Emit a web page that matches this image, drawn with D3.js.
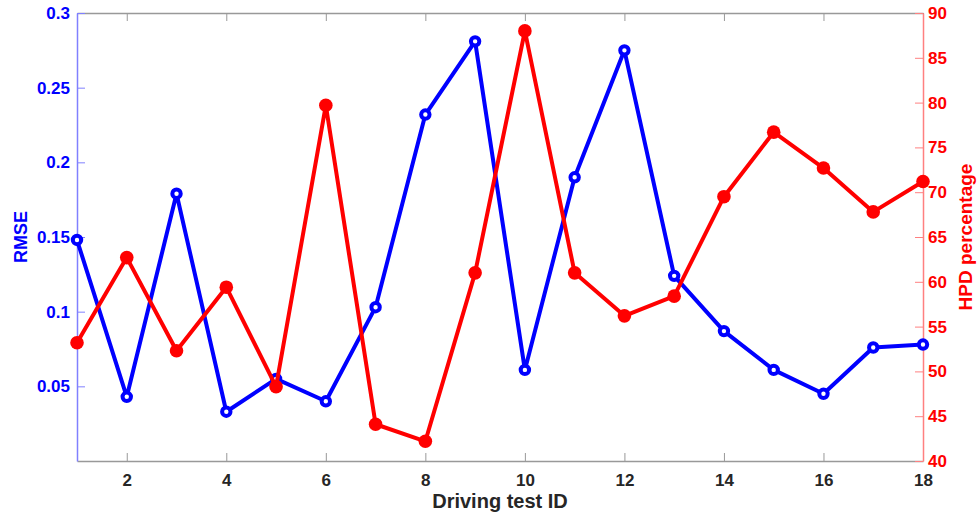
<!DOCTYPE html>
<html>
<head>
<meta charset="utf-8">
<script src="https://cdn.jsdelivr.net/npm/d3@7"></script>
<style>
	html, body { margin: 0; padding: 0; background: #fff; overflow: hidden; }
	svg { display: block; }
	svg text { font-family: "Liberation Sans", Arial, sans-serif; font-weight: bold; }
</style>
</head>
<body>
<svg id="chart" width="980" height="517"></svg>
<script>
// Data
const testIds = d3.range(1, 19);
const rmse = [0.148, 0.043, 0.179, 0.033, 0.055, 0.040, 0.103, 0.232, 0.281,
	0.061, 0.190, 0.275, 0.124, 0.087, 0.061, 0.045, 0.076, 0.078];
const hpd = [53.2, 62.7, 52.3, 59.4, 48.3, 79.7, 44.1, 42.2, 61.0,
	88.0, 61.0, 56.2, 58.4, 69.5, 76.7, 72.7, 67.8, 71.2];
const xTicks = [2, 4, 6, 8, 10, 12, 14, 16, 18];
const rmseTicks = [0.05, 0.1, 0.15, 0.2, 0.25, 0.3];
const hpdTicks = [40, 45, 50, 55, 60, 65, 70, 75, 80, 85, 90];

const margin = {top: 13, right: 57, bottom: 56, left: 77};

const svg = d3.select("#chart"),
	  width = +svg.attr("width"),
	  height = +svg.attr("height"),
	  innerWidth = width - margin.left - margin.right,
	  innerHeight = height - margin.top - margin.bottom,
	  tickLen = 8;

const blue = "#0000ff", red = "#ff0000";

const x = d3.scaleLinear().domain([1, 18]).range([0, innerWidth]);
const yLeft = d3.scaleLinear().domain([0, 0.3]).range([innerHeight, 0]);
const yRight = d3.scaleLinear().domain([40, 90]).range([innerHeight, 0]);

const g = svg.append("g")
	.attr("transform", `translate(${margin.left},${margin.top})`);

// Bottom and top axes (ticks point inward)
const bottomAxis = g.append("g")
	.attr("transform", `translate(0,${innerHeight})`)
	.call(d3.axisBottom(x).tickValues(xTicks).tickSize(-tickLen).tickPadding(13).tickSizeOuter(0));
bottomAxis.select(".domain").attr("stroke", "#999").attr("stroke-width", 1.5);
bottomAxis.selectAll(".tick line").attr("stroke", "#999");
bottomAxis.selectAll(".tick text").attr("fill", "#262626").style("font-size", "17px");

const topAxis = g.append("g")
	.call(d3.axisTop(x).tickValues(xTicks).tickSize(-tickLen).tickSizeOuter(0));
topAxis.selectAll(".tick text").remove();
topAxis.select(".domain").attr("stroke", "#999").attr("stroke-width", 1.5);
topAxis.selectAll(".tick line").attr("stroke", "#999");

// Left axis (RMSE)
const leftAxis = g.append("g")
	.call(d3.axisLeft(yLeft).tickValues(rmseTicks).tickSize(-tickLen).tickPadding(7)
		.tickFormat(d3.format("~g")).tickSizeOuter(0));
leftAxis.select(".domain").attr("stroke", "#8080ff").attr("stroke-width", 1.5);
leftAxis.selectAll(".tick line").attr("stroke", "#8080ff");
leftAxis.selectAll(".tick text").attr("fill", blue).style("font-size", "17px");

// Right axis (HPD)
const rightAxis = g.append("g")
	.attr("transform", `translate(${innerWidth},0)`)
	.call(d3.axisRight(yRight).tickValues(hpdTicks).tickSize(-tickLen).tickPadding(5).tickSizeOuter(0));
rightAxis.select(".domain").attr("stroke", "#ff8080").attr("stroke-width", 1.5);
rightAxis.selectAll(".tick line").attr("stroke", "#ff8080");
rightAxis.selectAll(".tick text").attr("fill", red).style("font-size", "17px");

// RMSE line with open circles
g.append("path")
	.datum(rmse)
	.attr("fill", "none")
	.attr("stroke", blue)
	.attr("stroke-width", 4)
	.attr("stroke-linejoin", "round")
	.attr("d", d3.line().x((d, i) => x(testIds[i])).y(d => yLeft(d)));

g.selectAll(".rmse-dot")
	.data(rmse)
	.enter()
	.append("circle")
	.attr("class", "rmse-dot")
	.attr("cx", (d, i) => x(testIds[i]))
	.attr("cy", d => yLeft(d))
	.attr("r", 4.2)
	.attr("fill", "#fff")
	.attr("stroke", blue)
	.attr("stroke-width", 4);

// HPD line with filled dots
g.append("path")
	.datum(hpd)
	.attr("fill", "none")
	.attr("stroke", red)
	.attr("stroke-width", 4)
	.attr("stroke-linejoin", "round")
	.attr("d", d3.line().x((d, i) => x(testIds[i])).y(d => yRight(d)));

g.selectAll(".hpd-dot")
	.data(hpd)
	.enter()
	.append("circle")
	.attr("class", "hpd-dot")
	.attr("cx", (d, i) => x(testIds[i]))
	.attr("cy", d => yRight(d))
	.attr("r", 6.8)
	.attr("fill", red);

// Axis titles
svg.append("text")
	.text("Driving test ID")
	.attr("x", margin.left + innerWidth / 2)
	.attr("y", 508)
	.attr("text-anchor", "middle")
	.attr("fill", "#262626")
	.style("font-size", "20px");

svg.append("text")
	.text("RMSE")
	.attr("transform", `translate(27,${margin.top + innerHeight / 2}) rotate(-90)`)
	.attr("text-anchor", "middle")
	.attr("fill", blue)
	.style("font-size", "18px");

svg.append("text")
	.text("HPD percentage")
	.attr("transform", `translate(972,${margin.top + innerHeight / 2}) rotate(-90)`)
	.attr("text-anchor", "middle")
	.attr("fill", red)
	.style("font-size", "19px");
</script>
</body>
</html>
